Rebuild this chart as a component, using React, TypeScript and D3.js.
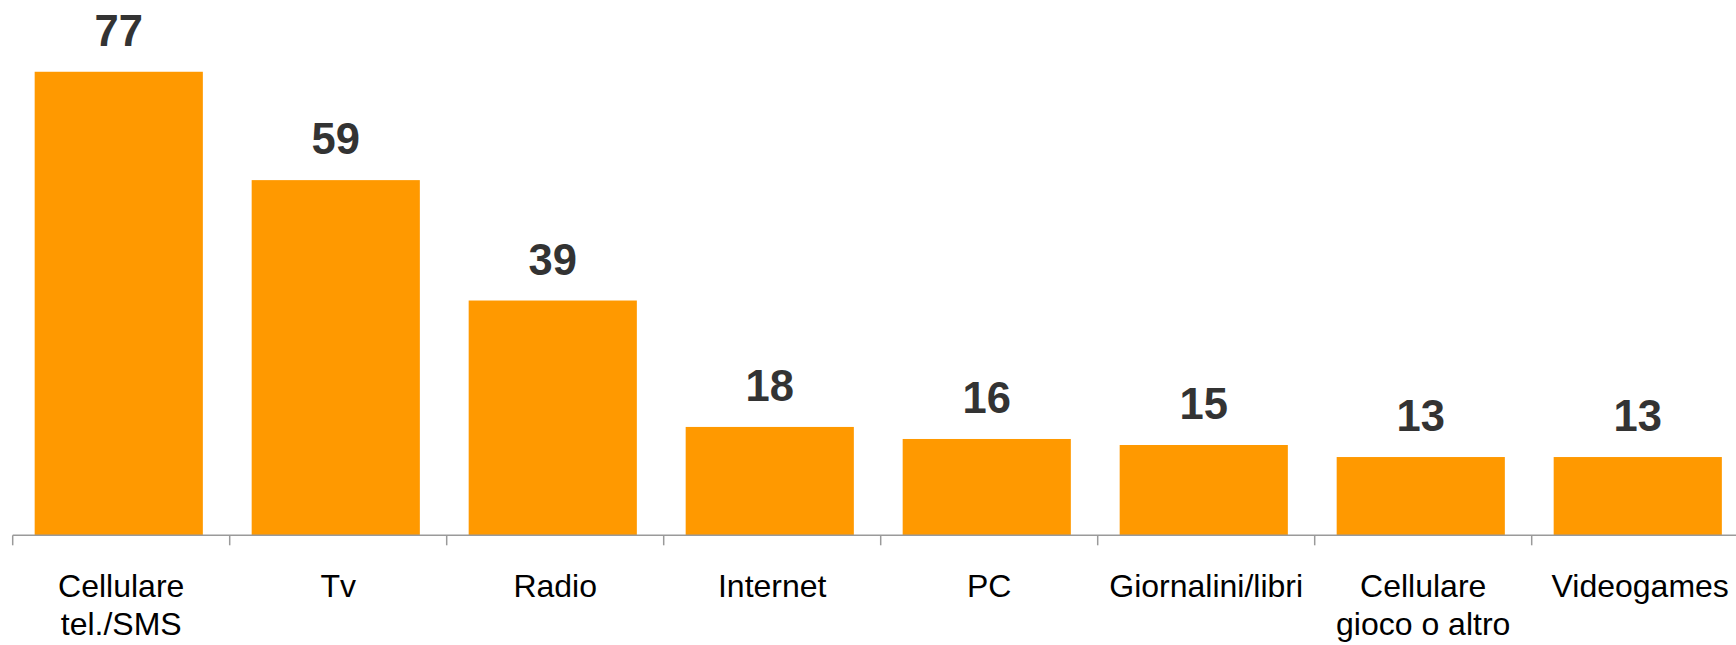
import React from "react";
import * as d3 from "d3";

const categories: string[][] = [
  ["Cellulare", "tel./SMS"],
  ["Tv"],
  ["Radio"],
  ["Internet"],
  ["PC"],
  ["Giornalini/libri"],
  ["Cellulare", "gioco o altro"],
  ["Videogames"],
];
const values: number[] = [77, 59, 39, 18, 16, 15, 13, 13];

const W = 1736;
const H = 645;
const x0 = 12.7;
const step = 217;
const baseY = 535.3;

export default function App() {
  const keys = categories.map((c) => c.join(" "));
  const x = d3
    .scaleBand<string>()
    .domain(keys)
    .range([x0, x0 + step * keys.length])
    .paddingInner(0.225)
    .paddingOuter(0.1125)
    .align(0.45);
  const y = d3.scaleLinear().domain([0, 80]).range([baseY, baseY - 80 * 6.02]);
  const tickXs = keys.map((k) => x0 + keys.indexOf(k) * step);
  tickXs.push(x0 + keys.length * step);

  return (
    <svg
      width={W}
      height={H}
      style={{ position: "absolute", left: 0, top: 0, background: "#fff" }}
      fontFamily="'Liberation Sans', Arial, sans-serif"
    >
      <rect x={0} y={0} width={W} height={H} fill="#fff" />
      {keys.map((k, i) => (
        <rect
          key={k}
          x={x(k)}
          y={y(values[i])}
          width={x.bandwidth()}
          height={baseY - y(values[i])}
          fill="#FF9900"
        />
      ))}
      <line x1={x0} x2={W} y1={baseY} y2={baseY} stroke="#9a9a9a" strokeWidth={1.5} />
      {tickXs.map((t, i) => (
        <line key={i} x1={t} x2={t} y1={baseY} y2={baseY + 10} stroke="#9a9a9a" strokeWidth={1.5} />
      ))}
      {keys.map((k, i) => (
        <text
          key={"v" + k}
          x={(x(k) as number) + x.bandwidth() / 2}
          y={y(values[i]) - 26}
          textAnchor="middle"
          fontSize={43.5}
          fontWeight="bold"
          fill="#333333"
        >
          {values[i]}
        </text>
      ))}
      {categories.map((lines, i) => (
        <text
          key={"c" + i}
          x={x0 + i * step + step / 2}
          y={596.7}
          textAnchor="middle"
          fontSize={32}
          fill="#000"
        >
          {lines.map((l, j) => (
            <tspan key={j} x={x0 + i * step + step / 2} dy={j === 0 ? 0 : 38}>
              {l}
            </tspan>
          ))}
        </text>
      ))}
    </svg>
  );
}
